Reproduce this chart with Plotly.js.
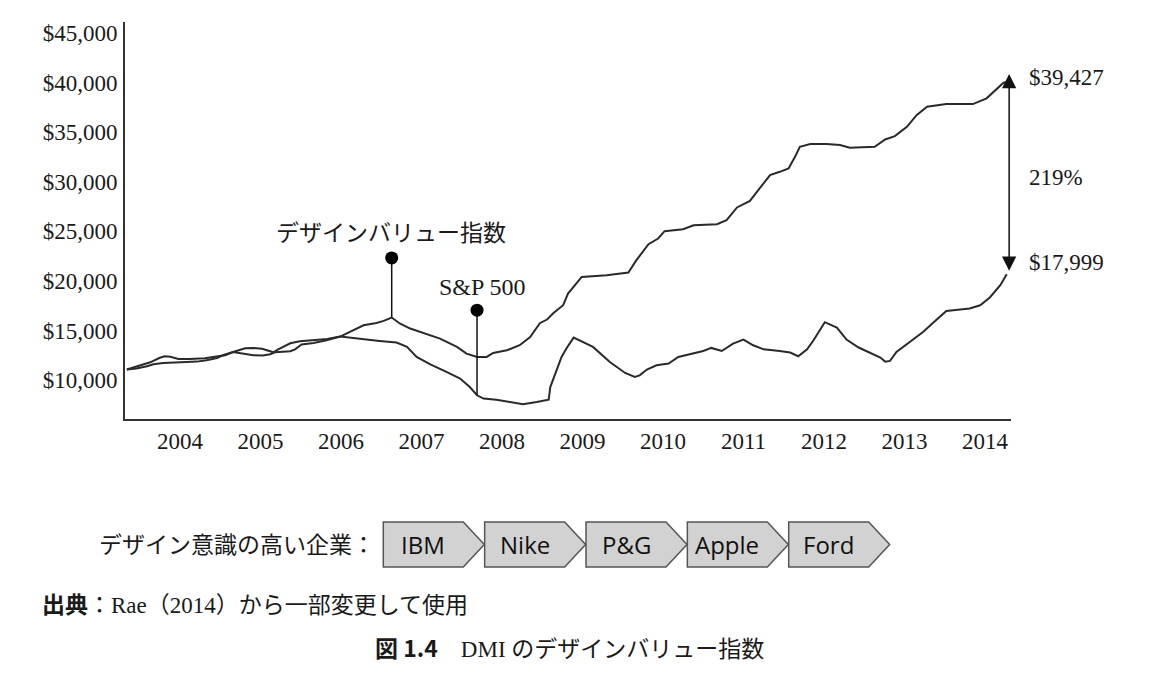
<!DOCTYPE html>
<html>
<head>
<meta charset="utf-8">
<script src="https://cdn.plot.ly/plotly-3.0.1.min.js"></script>
<style>html,body{margin:0;padding:0;background:#fff;}#chart{width:1170px;height:686px;}</style>
</head>
<body>
<div id="chart"></div>
<script>
// ---- data ----
const years = [2004,2005,2006,2007,2008,2009,2010,2011,2012,2013,2014];
const yearLabels = ['2004','2005','2006','2007','2008','2009','2010','2011','2012','2013','2014'];
const yTickVals = [10000,15000,20000,25000,30000,35000,40000,45000];
const yTickLabels = ['$10,000','$15,000','$20,000','$25,000','$30,000','$35,000','$40,000','$45,000'];

const dviX = [2003.34,2003.50,2003.63,2003.75,2003.81,2003.88,2003.98,2004.12,2004.31,2004.43,2004.56,2004.66,2004.75,2004.81,2004.91,2005.02,2005.12,2005.16,2005.22,2005.28,2005.37,2005.49,2005.65,2005.83,2005.99,2006.15,2006.28,2006.44,2006.53,2006.63,2006.73,2006.86,2007.02,2007.23,2007.44,2007.56,2007.69,2007.81,2007.89,2008.06,2008.22,2008.35,2008.47,2008.56,2008.64,2008.76,2008.82,2008.91,2008.99,2009.30,2009.57,2009.67,2009.82,2009.94,2010.02,2010.25,2010.38,2010.67,2010.79,2010.92,2011.08,2011.20,2011.33,2011.45,2011.56,2011.64,2011.70,2011.83,2012.03,2012.20,2012.32,2012.63,2012.76,2012.88,2013.03,2013.15,2013.28,2013.52,2013.85,2014.02,2014.15,2014.23,2014.29];
const dviY = [11080,11460,11810,12270,12420,12370,12150,12150,12220,12370,12520,12850,13070,13230,13260,13180,12920,12820,13120,13380,13730,13930,14030,14160,14400,15040,15540,15780,15980,16320,15720,15210,14770,14200,13360,12690,12350,12350,12750,13020,13530,14360,15750,16120,16780,17560,18740,19580,20410,20580,20860,22100,23710,24280,25020,25220,25620,25720,26130,27410,28070,29320,30660,31000,31340,32510,33520,33790,33790,33690,33420,33520,34260,34600,35530,36710,37550,37820,37820,38400,39400,39970,40070];

const spX = [2003.34,2003.46,2003.59,2003.67,2003.79,2003.92,2004.08,2004.21,2004.33,2004.46,2004.54,2004.66,2004.79,2004.91,2005.03,2005.12,2005.18,2005.24,2005.37,2005.43,2005.51,2005.66,2005.82,2005.99,2006.28,2006.48,2006.69,2006.82,2006.94,2007.11,2007.31,2007.48,2007.60,2007.69,2007.77,2007.93,2008.10,2008.26,2008.43,2008.58,2008.60,2008.66,2008.74,2008.80,2008.89,2009.13,2009.34,2009.53,2009.65,2009.71,2009.80,2009.92,2010.07,2010.19,2010.38,2010.50,2010.60,2010.73,2010.87,2011.00,2011.12,2011.25,2011.45,2011.58,2011.68,2011.79,2011.87,2011.95,2012.01,2012.16,2012.28,2012.43,2012.70,2012.76,2012.82,2012.90,2013.07,2013.23,2013.38,2013.52,2013.81,2013.94,2014.06,2014.19,2014.27];
const spY = [11080,11180,11410,11610,11740,11810,11840,11880,12020,12250,12550,12840,12690,12520,12490,12620,12820,12850,12920,13120,13600,13760,14030,14400,14100,13960,13800,13360,12350,11610,10840,10170,9320,8490,8160,8050,7810,7580,7810,8050,9320,10680,12350,13200,14300,13360,11840,10740,10330,10500,11080,11510,11680,12350,12750,12950,13260,12950,13700,14100,13530,13120,12950,12790,12420,13120,14030,15110,15850,15310,14100,13300,12290,11880,11950,12850,13860,14870,15980,16990,17230,17560,18340,19580,20690];

const seriesNames = ['デザインバリュー指数', 'S&P 500'];
const pinX = [2006.63, 2007.69];      // pin stems
const pinTop = [22330, 17060];
const pinBottom = [16320, 8490];
const labelX = [2006.62, 2007.75];
const labelY = [24820, 19400];

const arrowX = 2014.30;
const arrowTop = 40850;
const arrowBottom = 20890;
const endLabels = ['$39,427', '219%', '$17,999'];
const endLabelY = [40540, 30460, 21820];

const companies = ['IBM', 'Nike', 'P&G', 'Apple', 'Ford'];
const companiesLabel = 'デザイン意識の高い企業：';
const sourceText = '<span style="font-family:\'Noto Sans CJK JP\';font-weight:bold">出典</span>：Rae（2014）から一部変更して使用';
const captionText = '<span style="font-family:\'Noto Sans CJK JP\';font-weight:bold">図 1.4</span>　DMI のデザインバリュー指数';

// ---- layout helpers (pixel -> paper) ----
const M = {l:125, r:159, t:22, b:267};
const W = 1170, H = 686;
const PW = W - M.l - M.r, PH = H - M.t - M.b;
const px = x => (x - M.l) / PW;
const py = y => (H - M.b - y) / PH;

const SERIF = 'Liberation Serif, "Noto Sans CJK JP", serif';
const CJK = 'Liberation Serif, "Noto Sans CJK JP", sans-serif';
const INK = '#1a1a1a';
const LINEC = '#2a2a2a';

const traces = [
  {x: dviX, y: dviY, mode: 'lines', line: {color: LINEC, width: 2}, hoverinfo: 'skip', name: seriesNames[0]},
  {x: spX, y: spY, mode: 'lines', line: {color: LINEC, width: 2}, hoverinfo: 'skip', name: seriesNames[1]}
];
for (let i = 0; i < pinX.length; i++) {
  traces.push({x: [pinX[i], pinX[i]], y: [pinTop[i], pinBottom[i]], mode: 'lines',
    line: {color: '#111', width: 1.5}, hoverinfo: 'skip'});
}
traces.push({x: pinX, y: pinTop, mode: 'markers', opacity: 1,
  marker: {color: 'rgb(0,0,0)', size: 13, opacity: 1, line: {color: 'rgb(0,0,0)', width: 0}}, hoverinfo: 'skip'});

const annotations = [];
for (let i = 0; i < seriesNames.length; i++) {
  annotations.push({x: labelX[i], y: labelY[i], xref: 'x', yref: 'y', text: seriesNames[i], showarrow: false,
    font: {family: CJK, size: i === 1 ? 24 : 23, color: INK}, xanchor: 'center', yanchor: 'middle'});
}
annotations.push({x: arrowX, y: arrowTop, ax: arrowX, ay: arrowBottom, xref: 'x', yref: 'y', axref: 'x', ayref: 'y',
  text: '', showarrow: true, arrowside: 'end+start', arrowhead: 2, startarrowhead: 2, arrowsize: 1.9, startarrowsize: 1.9,
  arrowwidth: 1.5, arrowcolor: '#111', standoff: 0, startstandoff: 0});
for (let i = 0; i < endLabels.length; i++) {
  annotations.push({x: px(1027), yref: 'y', xref: 'paper', y: endLabelY[i], text: endLabels[i], showarrow: false,
    font: {family: SERIF, size: 23, color: INK}, xanchor: 'left', yanchor: 'middle'});
}

const shapes = [];
const chevTop = 522, chevBot = 567, chevMid = 544.5;
for (let i = 0; i < companies.length; i++) {
  const L = 383.3 + 101.35 * i;
  const path = `M ${px(L)} ${py(chevTop)} L ${px(L + 80)} ${py(chevTop)} L ${px(L + 101)} ${py(chevMid)} L ${px(L + 80)} ${py(chevBot)} L ${px(L)} ${py(chevBot)} Z`;
  shapes.push({type: 'path', xref: 'paper', yref: 'paper', path: path, fillcolor: '#d2d2d2', line: {color: '#555', width: 1.5}});
  annotations.push({x: px(L + 40), y: py(chevMid), xref: 'paper', yref: 'paper', text: companies[i], showarrow: false,
    font: {family: 'Open Sans, Noto Sans, sans-serif', size: 24, color: '#111'}, xanchor: 'center', yanchor: 'middle'});
}
annotations.push({x: px(97), y: py(545), xref: 'paper', yref: 'paper', text: companiesLabel, showarrow: false,
  font: {family: CJK, size: 23, color: INK}, xanchor: 'left', yanchor: 'middle'});
annotations.push({x: px(40), y: py(603), xref: 'paper', yref: 'paper', text: sourceText, showarrow: false,
  font: {family: CJK, size: 23, color: INK}, xanchor: 'left', yanchor: 'middle'});
annotations.push({x: px(373), y: py(647), xref: 'paper', yref: 'paper', text: captionText, showarrow: false,
  font: {family: CJK, size: 23, color: INK}, xanchor: 'left', yanchor: 'middle'});

const layout = {
  width: W, height: H,
  margin: M,
  paper_bgcolor: '#fff', plot_bgcolor: '#fff',
  showlegend: false,
  xaxis: {range: [2003.317, 2014.323], tickmode: 'array', tickvals: years, ticktext: yearLabels,
    showline: true, linecolor: '#333', linewidth: 2, ticks: '', showgrid: false, zeroline: false,
    tickfont: {family: SERIF, size: 23, color: INK}, ticklabelstandoff: 0, fixedrange: true},
  yaxis: {range: [6100, 46090], tickmode: 'array', tickvals: yTickVals, ticktext: yTickLabels,
    showline: true, linecolor: '#333', linewidth: 2, ticks: '', showgrid: false, zeroline: false,
    tickfont: {family: SERIF, size: 23, color: INK}, ticklabelstandoff: 1, fixedrange: true},
  shapes: shapes,
  annotations: annotations
};

Plotly.newPlot('chart', traces, layout, {displayModeBar: false, staticPlot: true});
</script>
</body>
</html>
